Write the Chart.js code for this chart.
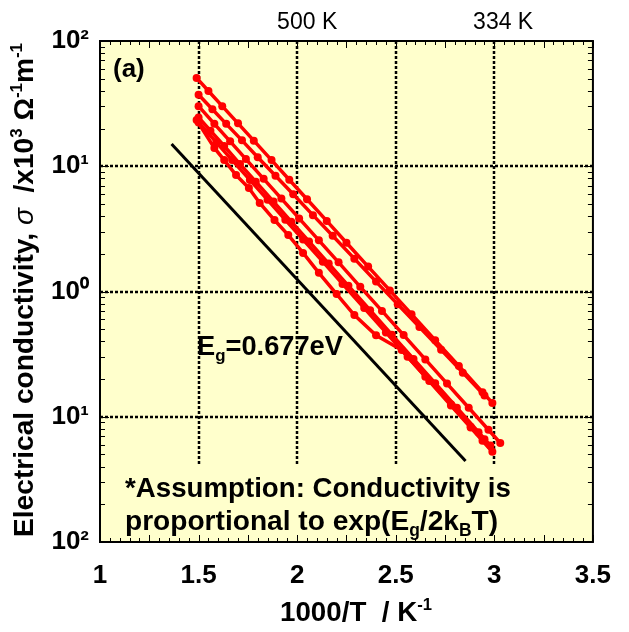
<!DOCTYPE html>
<html><head><meta charset="utf-8">
<script src="https://cdn.jsdelivr.net/npm/chart.js@4/dist/chart.umd.min.js"></script>
<style>html,body{margin:0;padding:0;background:#fff}</style>
</head><body>
<canvas id="c" width="629" height="632"></canvas>
<script>
// ---- data ----
const xTickValues = [1, 1.5, 2, 2.5, 3, 3.5];
const xTickLabels = ['1', '1.5', '2', '2.5', '3', '3.5'];
const yTickValues = [0.01, 0.1, 1, 10, 100];
const yTickLabels = ['10²', '10¹', '10⁰', '10¹', '10²'];
const topLabelValues = [2.0, 2.994];
const topLabels = ['500 K', '334 K'];

const xA = [1.49, 1.55, 1.62, 1.70, 1.78, 1.87, 1.96, 2.05, 2.15, 2.25, 2.36, 2.47, 2.58, 2.70, 2.82, 2.94, 2.99];
const yA = [50.7, 39.9, 30.2, 22.0, 16.0, 11.2, 7.80, 5.45, 3.66, 2.45, 1.58, 1.02, 0.659, 0.409, 0.254, 0.157, 0.129];
const xB = [1.50, 1.57, 1.64, 1.72, 1.80, 1.89, 1.98, 2.08, 2.18, 2.29, 2.40, 2.51, 2.62, 2.73, 2.84, 2.95];
const yB = [37.2, 28.5, 21.8, 16.1, 11.8, 8.41, 5.97, 4.07, 2.79, 1.83, 1.20, 0.791, 0.520, 0.342, 0.225, 0.148];
const xD = [1.50, 1.58, 1.66, 1.74, 1.83, 1.92, 2.01, 2.11, 2.21, 2.32, 2.43, 2.54, 2.65, 2.76, 2.87, 2.97, 3.03];
const yD = [30.2, 21.8, 15.8, 11.4, 7.94, 5.52, 3.83, 2.56, 1.71, 1.09, 0.700, 0.449, 0.287, 0.184, 0.118, 0.0787, 0.0617];
const xC = [1.50, 1.56, 1.63, 1.71, 1.79, 1.88, 1.97, 2.06, 2.16, 2.26, 2.37, 2.48, 2.59, 2.70, 2.81, 2.92, 2.98];
const yC = [24.5, 19.2, 14.5, 10.4, 7.53, 5.22, 3.61, 2.51, 1.67, 1.11, 0.708, 0.452, 0.289, 0.185, 0.118, 0.0753, 0.0589];
const xE = [1.50, 1.59, 1.67, 1.76, 1.85, 1.94, 2.03, 2.13, 2.23, 2.34, 2.45, 2.56, 2.67, 2.78, 2.88, 2.94, 2.99];
const yE = [22.4, 15.5, 11.2, 7.78, 5.40, 3.74, 2.60, 1.73, 1.15, 0.737, 0.471, 0.301, 0.193, 0.123, 0.0820, 0.0643, 0.0525];
const xF = [1.49, 1.58, 1.63, 1.69, 1.755, 1.81, 1.885, 1.955, 2.03, 2.11, 2.20, 2.29, 2.40, 2.53, 2.65, 2.78, 2.88, 2.95];
const yF = [23.4, 14.0, 11.2, 8.51, 6.70, 5.09, 3.72, 2.82, 2.03, 1.41, 0.955, 0.649, 0.447, 0.341, 0.209, 0.126, 0.0832, 0.0661];
const xFit = [1.363, 2.854];
const yFit = [15.07, 0.0444];

const redSeries = [[xA, yA], [xB, yB], [xD, yD], [xC, yC], [xE, yE], [xF, yF]];

// ---- helpers ----
const FAM = '"Liberation Sans", Arial, Helvetica, sans-serif';
function pts(xs, ys) { return xs.map((x, i) => ({ x: x, y: ys[i] })); }
function fontOf(p, size) {
  return (p.i ? 'italic ' : '') + (p.b === false ? '' : 'bold ') + (size * (p.s || 1)).toFixed(2) + 'px ' + FAM;
}
function richWidth(ctx, parts, size) {
  let w = 0;
  for (const p of parts) { ctx.font = fontOf(p, size); w += ctx.measureText(p.t).width; }
  return w;
}
function fitSize(ctx, parts, target, base) { return base * target / richWidth(ctx, parts, base); }
function drawRich(ctx, parts, x, y, size, align) {
  const w = richWidth(ctx, parts, size);
  let cx = align === 'center' ? x - w / 2 : x;
  ctx.textAlign = 'left'; ctx.textBaseline = 'alphabetic';
  for (const p of parts) {
    ctx.font = fontOf(p, size);
    ctx.fillText(p.t, cx, y + (p.dy || 0) * size);
    cx += ctx.measureText(p.t).width;
  }
}

const datasets = redSeries.map((s) => ({
  data: pts(s[0], s[1]), showLine: true, borderColor: '#ff0000', backgroundColor: '#ff0000',
  borderWidth: 3.5, pointRadius: 4, pointBorderWidth: 0, pointBackgroundColor: '#ff0000'
}));
datasets.push({
  data: pts(xFit, yFit), showLine: true, borderColor: '#000', backgroundColor: '#000',
  borderWidth: 3, pointRadius: 0
});

const decor = {
  id: 'decor',
  beforeDraw(chart) {
    const { ctx, chartArea: a } = chart;
    ctx.save();
    ctx.fillStyle = '#fff';
    ctx.fillRect(0, 0, chart.width, chart.height);
    ctx.fillStyle = '#ffffcc';
    ctx.fillRect(a.left, a.top, a.right - a.left, a.bottom - a.top);
    ctx.restore();
  },
  beforeDatasetsDraw(chart) {
    const { ctx, chartArea: a, scales } = chart;
    const xs = scales.x, ys = scales.y;
    ctx.save();
    // dotted grid
    ctx.strokeStyle = '#000'; ctx.lineWidth = 2.5; ctx.setLineDash([3, 2]);
    xTickValues.slice(1, -1).forEach(v => {
      const px = Math.round(xs.getPixelForValue(v));
      ctx.beginPath(); ctx.moveTo(px, a.top); ctx.lineTo(px, a.bottom); ctx.stroke();
    });
    yTickValues.slice(1, -1).forEach(v => {
      const py = Math.round(ys.getPixelForValue(v));
      ctx.beginPath(); ctx.moveTo(a.left, py); ctx.lineTo(a.right, py); ctx.stroke();
    });
    ctx.setLineDash([]);
    // cover behind annotation text
    ctx.fillStyle = '#ffffcc';
    ctx.fillRect(a.left + 2, a.top + 425, a.right - a.left - 4, a.bottom - a.top - 427);
    // frame
    ctx.lineWidth = 2; ctx.strokeStyle = '#000';
    ctx.strokeRect(a.left, a.top, a.right - a.left, a.bottom - a.top);
    // minor ticks x
    ctx.lineWidth = 1;
    for (let k = 0; k <= 50; k++) {
      const v = 1 + k * 0.05;
      const px = Math.round(xs.getPixelForValue(v)) + 0.5;
      const len = (k % 5 === 0) ? 7 : 4;
      ctx.beginPath(); ctx.moveTo(px, a.bottom); ctx.lineTo(px, a.bottom - len); ctx.stroke();
      ctx.beginPath(); ctx.moveTo(px, a.top); ctx.lineTo(px, a.top + len); ctx.stroke();
    }
    // minor ticks y (log)
    for (let d = -2; d <= 1; d++) {
      for (let m = 1; m <= 9; m++) {
        const v = m * Math.pow(10, d);
        const py = Math.round(ys.getPixelForValue(v)) + 0.5;
        const len = m === 1 ? 9 : 5;
        ctx.beginPath(); ctx.moveTo(a.left, py); ctx.lineTo(a.left + len, py); ctx.stroke();
        ctx.beginPath(); ctx.moveTo(a.right, py); ctx.lineTo(a.right - len, py); ctx.stroke();
      }
    }
    ctx.restore();
  },
  afterDatasetsDraw(chart) {
    const { ctx, chartArea: a, scales } = chart;
    const xs = scales.x;
    ctx.save();
    ctx.fillStyle = '#000';
    // top temperature labels
    ctx.font = '23px ' + FAM; ctx.textAlign = 'center'; ctx.textBaseline = 'alphabetic';
    topLabelValues.forEach((v, i) => ctx.fillText(topLabels[i], xs.getPixelForValue(v) + 10, 29));
    // (a)
    drawRich(ctx, [{ t: '(a)' }], 113, 77, 26, 'left');
    // Eg label
    const eg = [{ t: 'E' }, { t: 'g', s: 0.62, dy: 0.22 }, { t: '=0.677eV' }];
    drawRich(ctx, eg, 197, 355, fitSize(ctx, eg, 146, 24), 'left');
    // annotation
    const l1 = [{ t: '*Assumption: Conductivity is' }];
    drawRich(ctx, l1, 125, 497, fitSize(ctx, l1, 386, 26), 'left');
    const l2 = [{ t: 'proportional to exp(E' }, { t: 'g', s: 0.62, dy: 0.22 }, { t: '/2k' }, { t: 'B', s: 0.62, dy: 0.22 }, { t: 'T)' }];
    drawRich(ctx, l2, 125, 530, fitSize(ctx, l2, 373, 26), 'left');
    // x title
    const xt = [{ t: '1000/T  / K' }, { t: '-1', s: 0.6, dy: -0.4 }];
    drawRich(ctx, xt, 280, 621, fitSize(ctx, xt, 152, 26), 'left');
    // y title (rotated)
    const yt = [{ t: 'Electrical conductivity, ' }, { t: 'σ', i: true, b: false }, { t: '  /x10' }, { t: '3', s: 0.6, dy: -0.4 },
      { t: ' Ω' }, { t: '-1', s: 0.6, dy: -0.4 }, { t: 'm' }, { t: '-1', s: 0.6, dy: -0.4 }];
    ctx.translate(33, 290);
    ctx.rotate(-Math.PI / 2);
    drawRich(ctx, yt, 0, 0, fitSize(ctx, yt, 494, 26), 'center');
    ctx.restore();
  }
};

new Chart(document.getElementById('c'), {
  type: 'scatter',
  data: { datasets: datasets },
  options: {
    responsive: false, animation: false, devicePixelRatio: 1,
    layout: { padding: { top: 41, right: 26, left: 0, bottom: 0 } },
    plugins: { legend: { display: false }, tooltip: { enabled: false } },
    scales: {
      x: {
        type: 'linear', min: 1, max: 3.5,
        afterBuildTicks: s => { s.ticks = xTickValues.map(v => ({ value: v })); },
        afterFit: s => { s.height = 90; },
        grid: { display: false, drawTicks: false }, border: { display: false },
        ticks: {
          callback: (v, i) => xTickLabels[i], color: '#000', padding: 18, maxRotation: 0, autoSkip: false,
          font: { family: FAM, weight: 'bold', size: 26 }
        }
      },
      y: {
        type: 'logarithmic', min: 0.01, max: 100,
        afterBuildTicks: s => { s.ticks = yTickValues.map(v => ({ value: v })); },
        afterFit: s => { s.width = 100; },
        grid: { display: false, drawTicks: false }, border: { display: false },
        ticks: {
          callback: (v, i) => yTickLabels[i], color: '#000', padding: 11, autoSkip: false,
          font: { family: FAM, weight: 'bold', size: 26 }
        }
      }
    }
  },
  plugins: [decor]
});
</script>
</body></html>
